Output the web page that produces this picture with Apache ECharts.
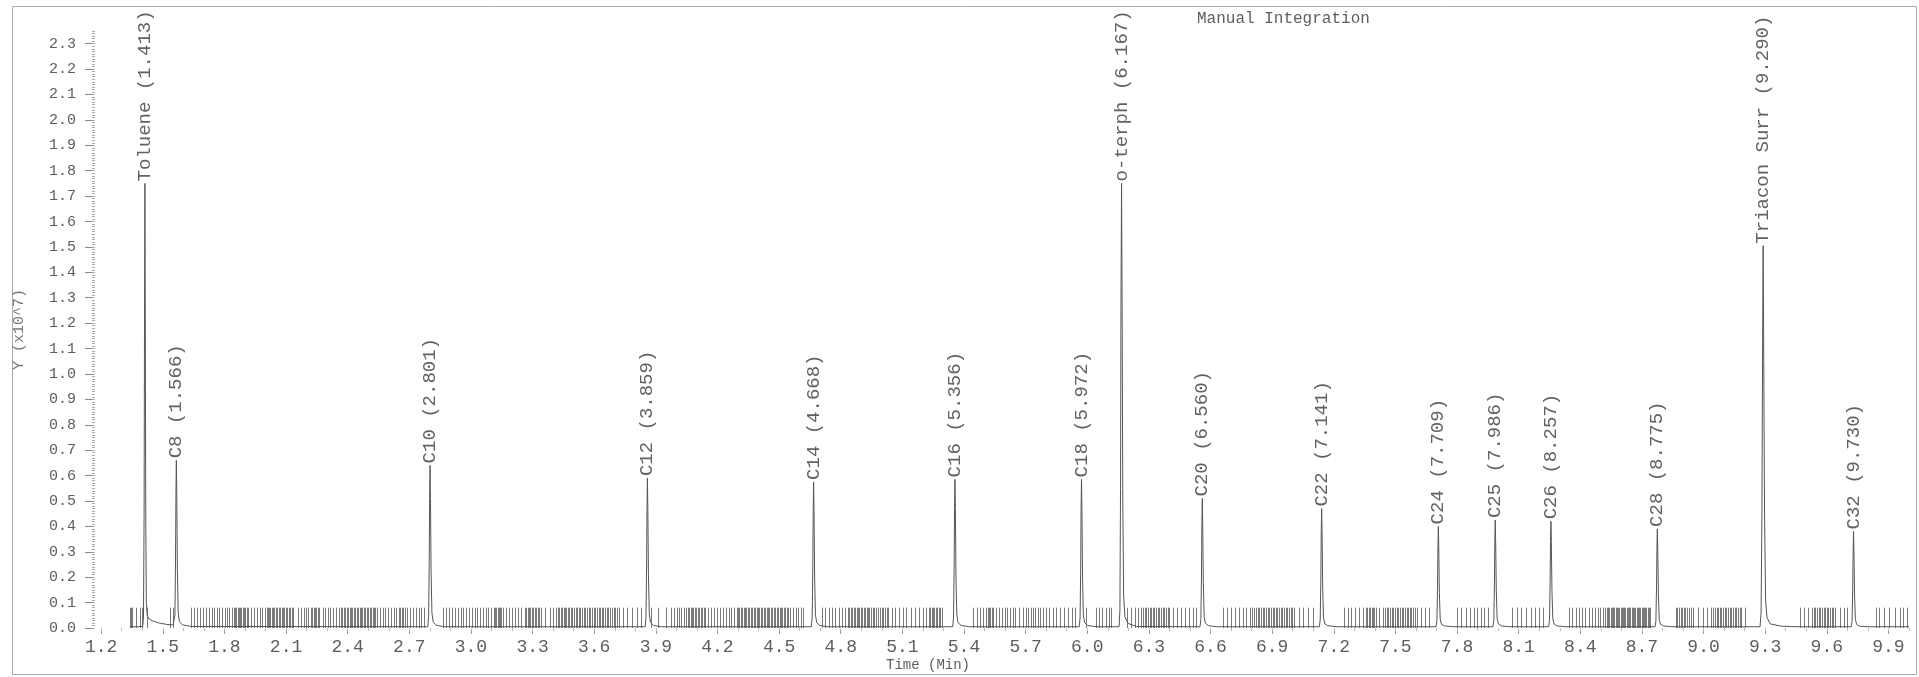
<!DOCTYPE html>
<html><head><meta charset="utf-8">
<script src="https://cdn.jsdelivr.net/npm/echarts@6/dist/echarts.min.js"></script>
<style>html,body{margin:0;padding:0;background:#fff}#c{width:1919px;height:677px}</style>
</head><body><div id="c"></div>
<script>
// ---- data ----
const xTickLabels = [1.2,1.5,1.8,2.1,2.4,2.7,3.0,3.3,3.6,3.9,4.2,4.5,4.8,5.1,5.4,5.7,6.0,6.3,6.6,6.9,7.2,7.5,7.8,8.1,8.4,8.7,9.0,9.3,9.6,9.9];
const yTickLabels = [0.0,0.1,0.2,0.3,0.4,0.5,0.6,0.7,0.8,0.9,1.0,1.1,1.2,1.3,1.4,1.5,1.6,1.7,1.8,1.9,2.0,2.1,2.2,2.3];

const peakNames = ["Toluene (1.413)","C8 (1.566)","C10 (2.801)","C12 (3.859)","C14 (4.668)","C16 (5.356)","C18 (5.972)","o-terph (6.167)","C20 (6.560)","C22 (7.141)","C24 (7.709)","C25 (7.986)","C26 (8.257)","C28 (8.775)","Triacon Surr (9.290)","C32 (9.730)"];
const peakTimes = [1.413,1.566,2.801,3.859,4.668,5.356,5.972,6.167,6.560,7.141,7.709,7.986,8.257,8.775,9.290,9.730];
// height at which each peak label starts (x10^7)
const peakLabelHeights = [1.75,0.66,0.64,0.59,0.575,0.585,0.585,1.75,0.51,0.47,0.40,0.425,0.42,0.39,1.505,0.38];

// chromatogram trace (time, signal x10^7)
const trace = [
 [1.340,0.005],[1.380,0.005],[1.402,0.006],[1.406,0.04],[1.409,0.45],[1.411,1.2],[1.413,1.75],[1.415,1.15],[1.417,0.45],[1.420,0.1],[1.424,0.05],[1.432,0.036],[1.450,0.028],[1.480,0.020],[1.520,0.014],[1.550,0.012],
 [1.555,0.012],[1.559,0.05],[1.562,0.26],[1.564,0.53],[1.566,0.66],[1.568,0.53],[1.571,0.23],[1.575,0.06],[1.581,0.025],[1.596,0.012],[1.640,0.006],
 [2.790,0.005],[2.794,0.045],[2.797,0.26],[2.799,0.51],[2.801,0.64],[2.803,0.51],[2.806,0.22],[2.810,0.06],[2.816,0.024],[2.831,0.011],[2.871,0.005],
 [3.848,0.005],[3.852,0.04],[3.855,0.24],[3.857,0.47],[3.859,0.59],[3.861,0.47],[3.864,0.21],[3.868,0.055],[3.874,0.022],[3.889,0.01],[3.929,0.005],
 [4.657,0.005],[4.661,0.04],[4.664,0.23],[4.666,0.46],[4.668,0.575],[4.670,0.46],[4.673,0.2],[4.677,0.052],[4.683,0.021],[4.698,0.01],[4.738,0.005],
 [5.345,0.005],[5.349,0.04],[5.352,0.23],[5.354,0.47],[5.356,0.585],[5.358,0.47],[5.361,0.2],[5.365,0.053],[5.371,0.021],[5.386,0.01],[5.426,0.005],
 [5.961,0.005],[5.965,0.04],[5.968,0.23],[5.970,0.47],[5.972,0.585],[5.974,0.47],[5.977,0.2],[5.981,0.053],[5.987,0.021],[6.002,0.01],[6.042,0.005],
 [6.155,0.005],[6.159,0.07],[6.162,0.55],[6.164,1.25],[6.167,1.75],[6.170,1.2],[6.173,0.5],[6.177,0.13],[6.183,0.045],[6.198,0.018],[6.240,0.006],
 [6.549,0.005],[6.553,0.035],[6.556,0.2],[6.558,0.41],[6.560,0.51],[6.562,0.41],[6.565,0.18],[6.569,0.046],[6.575,0.019],[6.590,0.009],[6.630,0.005],
 [7.130,0.005],[7.134,0.033],[7.137,0.19],[7.139,0.38],[7.141,0.47],[7.143,0.38],[7.146,0.16],[7.150,0.042],[7.156,0.017],[7.171,0.009],[7.211,0.005],
 [7.698,0.005],[7.702,0.028],[7.705,0.16],[7.707,0.32],[7.709,0.40],[7.711,0.32],[7.714,0.14],[7.718,0.036],[7.724,0.015],[7.739,0.008],[7.779,0.005],
 [7.975,0.005],[7.979,0.03],[7.982,0.17],[7.984,0.34],[7.986,0.425],[7.988,0.34],[7.991,0.15],[7.995,0.038],[8.001,0.016],[8.016,0.008],[8.056,0.005],
 [8.246,0.005],[8.250,0.03],[8.253,0.17],[8.255,0.34],[8.257,0.42],[8.259,0.34],[8.262,0.15],[8.266,0.038],[8.272,0.016],[8.287,0.008],[8.327,0.005],
 [8.764,0.005],[8.768,0.027],[8.771,0.16],[8.773,0.31],[8.775,0.39],[8.777,0.31],[8.780,0.14],[8.784,0.035],[8.790,0.015],[8.805,0.008],[8.845,0.005],
 [9.275,0.005],[9.280,0.06],[9.284,0.45],[9.287,1.05],[9.290,1.505],[9.293,1.05],[9.297,0.42],[9.302,0.11],[9.309,0.04],[9.325,0.016],[9.380,0.007],[9.450,0.005],
 [9.719,0.005],[9.723,0.027],[9.726,0.15],[9.728,0.3],[9.730,0.38],[9.732,0.3],[9.735,0.13],[9.739,0.034],[9.745,0.014],[9.760,0.007],[9.800,0.005],
 [10.000,0.005]
];

// integration event marks along the baseline (time positions)
const eventTimes = [
 1.338,1.345,1.352,1.372,1.388,1.398,1.425,1.535,1.548,
 1.636,1.652,1.668,1.681,1.697,1.712,1.724,1.738,1.751,1.763,1.775,1.789,1.801,1.812,1.824,1.836,1.845,1.853,1.858,1.864,1.870,1.876,1.883,1.889,1.895,1.901,1.908,1.915,1.928,1.944,1.958,1.972,1.985,1.996,2.005,2.011,2.017,2.024,2.030,2.037,2.043,2.050,2.057,2.064,2.071,2.078,2.085,2.092,2.099,2.106,2.113,2.120,2.128,2.134,2.160,2.173,2.186,2.198,2.209,2.222,2.228,2.235,2.241,2.248,2.255,2.262,2.278,2.291,2.303,2.316,2.330,2.343,2.356,2.366,2.374,2.381,2.388,2.395,2.402,2.409,2.416,2.423,2.430,2.437,2.444,2.451,2.458,2.465,2.472,2.479,2.486,2.493,2.500,2.507,2.514,2.521,2.528,2.535,2.542,2.556,2.571,2.584,2.597,2.611,2.624,2.637,2.650,2.657,2.663,2.670,2.677,2.690,2.705,2.718,2.731,2.745,2.758,2.770,
 2.862,2.878,2.893,2.907,2.921,2.936,2.950,2.963,2.977,2.990,3.004,3.018,3.031,3.045,3.058,3.071,3.084,3.097,3.112,3.118,3.124,3.130,3.136,3.142,3.148,3.155,3.170,3.186,3.201,3.215,3.230,3.246,3.264,3.270,3.276,3.283,3.289,3.296,3.303,3.310,3.317,3.324,3.331,3.339,3.360,3.383,3.400,3.416,3.423,3.430,3.437,3.444,3.451,3.458,3.465,3.472,3.479,3.486,3.494,3.501,3.509,3.517,3.525,3.533,3.541,3.549,3.557,3.565,3.573,3.581,3.589,3.597,3.605,3.613,3.621,3.629,3.637,3.645,3.653,3.661,3.669,3.677,3.685,3.694,3.703,3.712,3.720,3.740,3.762,3.785,3.808,3.828,
 3.878,3.912,3.948,3.972,3.990,4.002,4.012,4.024,4.036,4.048,4.055,4.062,4.069,4.076,4.083,4.090,4.097,4.104,4.111,4.118,4.125,4.132,4.140,4.156,4.170,4.184,4.197,4.211,4.225,4.240,4.254,4.268,4.282,4.293,4.300,4.306,4.313,4.320,4.327,4.334,4.341,4.348,4.355,4.362,4.369,4.376,4.383,4.390,4.397,4.404,4.411,4.418,4.425,4.432,4.439,4.446,4.453,4.460,4.467,4.474,4.481,4.488,4.495,4.502,4.509,4.516,4.523,4.530,4.537,4.544,4.552,4.566,4.580,4.594,4.608,4.618,
 4.708,4.724,4.741,4.758,4.774,4.790,4.806,4.821,4.835,4.842,4.849,4.856,4.863,4.870,4.877,4.884,4.891,4.898,4.905,4.912,4.919,4.926,4.933,4.940,4.947,4.955,4.963,4.972,4.981,4.990,4.999,5.008,5.017,5.025,5.032,5.048,5.065,5.083,5.101,5.120,5.140,5.160,5.180,5.200,5.215,5.228,5.235,5.242,5.249,5.256,5.263,5.270,5.277,5.284,5.292,
 5.445,5.462,5.478,5.493,5.508,5.515,5.522,5.529,5.536,5.543,5.558,5.572,5.585,5.598,5.611,5.624,5.637,5.650,5.668,5.686,5.700,5.712,5.724,5.736,5.748,5.760,5.772,5.785,5.800,5.815,5.832,5.850,5.868,5.886,5.904,5.925,5.942,
 5.995,6.043,6.058,6.072,6.090,6.105,6.118,
 6.195,6.212,6.230,6.248,6.262,6.271,6.279,6.287,6.295,6.303,6.311,6.319,6.327,6.335,6.343,6.351,6.359,6.367,6.375,6.383,6.391,6.400,6.418,6.436,6.455,6.474,6.495,6.515,6.530,
 6.662,6.680,6.699,6.718,6.737,6.756,6.775,6.790,6.802,6.814,6.822,6.830,6.838,6.846,6.854,6.862,6.870,6.878,6.886,6.894,6.902,6.910,6.918,6.926,6.934,6.942,6.950,6.958,6.966,6.974,6.982,6.990,6.998,7.008,7.030,7.052,7.075,7.097,
 7.250,7.268,7.286,7.305,7.322,7.340,7.356,7.363,7.370,7.377,7.384,7.391,7.398,7.404,7.420,7.442,7.450,7.458,7.466,7.474,7.482,7.490,7.498,7.506,7.514,7.522,7.530,7.538,7.546,7.554,7.562,7.570,7.578,7.586,7.594,7.605,7.625,7.645,7.662,
 7.800,7.820,7.845,7.865,7.882,7.898,7.915,7.932,7.950,
 8.068,8.090,8.112,8.135,8.158,8.178,8.198,8.220,
 8.346,8.362,8.378,8.393,8.408,8.423,8.440,8.456,8.470,8.484,8.497,8.510,8.522,8.530,8.536,8.542,8.548,8.554,8.560,8.566,8.572,8.578,8.584,8.590,8.596,8.602,8.608,8.614,8.620,8.626,8.632,8.638,8.644,8.650,8.656,8.662,8.668,8.674,8.680,8.686,8.692,8.698,8.704,8.710,8.716,8.722,8.728,8.734,8.740,
 8.864,8.872,8.880,8.888,8.896,8.904,8.912,8.920,8.930,8.940,8.950,8.972,8.995,9.018,9.035,9.047,9.055,9.063,9.071,9.079,9.087,9.095,9.103,9.111,9.119,9.127,9.135,9.143,9.151,9.159,9.167,9.175,9.182,9.200,
 9.470,9.490,9.510,9.528,9.536,9.544,9.552,9.560,9.568,9.576,9.584,9.592,9.600,9.608,9.616,9.624,9.632,9.642,9.662,9.682,9.700,
 9.838,9.855,9.880,9.905,9.930,9.955,9.970,9.988
];
const eventMarkHeight = 0.08;

// ---- chart ----
const X_MIN = 1.17, X_MAX = 10.0, Y_MIN = 0, Y_MAX = 2.35;
const xMinorTicks = []; for (let i = 12; i <= 100; i++) xMinorTicks.push(+(i/10).toFixed(1));
const yMinorTicks = []; for (let i = 0; i <= 235; i++) yMinorTicks.push(+(i/100).toFixed(2));

const FONT = '"Liberation Mono", "DejaVu Sans Mono", monospace';
const TXT = '#5e5e5e';
const chart = echarts.init(document.getElementById('c'), null, {renderer:'canvas'});
chart.setOption({
  animation:false,
  backgroundColor:'#fff',
  grid:{left:95, right:10, top:31, bottom:49},
  xAxis:[{
    type:'value', min:X_MIN, max:X_MAX, position:'bottom',
    axisLine:{show:false},
    splitLine:{show:false},
    axisTick:{show:true, customValues:xTickLabels, length:6, lineStyle:{color:'#999'}},
    axisLabel:{customValues:xTickLabels, formatter:v=>v.toFixed(1), color:TXT, fontFamily:FONT, fontSize:18, margin:10}
  },{
    type:'value', min:X_MIN, max:X_MAX, position:'bottom',
    axisLine:{show:false}, splitLine:{show:false}, axisLabel:{show:false},
    axisTick:{show:true, customValues:xMinorTicks, length:3, lineStyle:{color:'#bbb'}}
  }],
  yAxis:[{
    type:'value', min:Y_MIN, max:Y_MAX,
    axisLine:{show:false}, splitLine:{show:false},
    axisTick:{show:true, customValues:yTickLabels, length:10, lineStyle:{color:'#888'}},
    axisLabel:{customValues:yTickLabels, formatter:v=>v.toFixed(1), color:TXT, fontFamily:FONT, fontSize:15, margin:19},
    name:'Y (x10^7)', nameLocation:'middle', nameGap:68, nameRotate:90,
    nameTextStyle:{color:'#777', fontFamily:FONT, fontSize:15}
  },{
    type:'value', min:Y_MIN, max:Y_MAX, position:'left',
    axisLine:{show:false}, splitLine:{show:false}, axisLabel:{show:false},
    axisTick:{show:true, customValues:yMinorTicks, length:3, lineStyle:{color:'#aaa'}}
  }],
  graphic:[
    {type:'rect', shape:{x:12.5, y:6.5, width:1904, height:668}, style:{fill:null, stroke:'#aaa', lineWidth:1}, silent:true},
    {type:'text', x:1197, y:19, style:{text:'Manual Integration', fill:TXT, font:'16px '+FONT, textAlign:'left', textVerticalAlign:'middle'}},
    {type:'text', x:928, y:665, style:{text:'Time (Min)', fill:TXT, font:'14px '+FONT, textAlign:'center', textVerticalAlign:'middle'}}
  ],
  series:[
    {
      type:'custom', name:'events', xAxisIndex:0, yAxisIndex:0,
      data:eventTimes.map(t=>[t, eventMarkHeight]),
      encode:{x:0, y:1},
      renderItem:(params, api)=>{
        const t = api.value(0);
        const p0 = api.coord([t, 0]);
        const p1 = api.coord([t, api.value(1)]);
        const x = Math.round(p0[0]) + 0.5;
        return {type:'line', shape:{x1:x, y1:p0[1], x2:x, y2:p1[1]}, style:{stroke:'#7a7a7a', lineWidth:1}};
      },
      z:1
    },
    {
      type:'line', name:'trace', xAxisIndex:0, yAxisIndex:0,
      data:trace, showSymbol:false, symbol:'none', clip:true,
      lineStyle:{color:'#555', width:1}, z:2
    },
    {
      type:'custom', name:'labels', xAxisIndex:0, yAxisIndex:0, clip:false,
      data:peakTimes.map((t,i)=>[t, peakLabelHeights[i], i]),
      encode:{x:0, y:1},
      renderItem:(params, api)=>{
        const p = api.coord([api.value(0), api.value(1)]);
        const i = api.value(2);
        return {type:'text', x:p[0], y:p[1]-2, rotation:Math.PI/2,
          style:{text:peakNames[i], fill:'#626262', font:'19px '+FONT, align:'left', verticalAlign:'middle'}};
      },
      z:3
    }
  ]
});
</script></body></html>
